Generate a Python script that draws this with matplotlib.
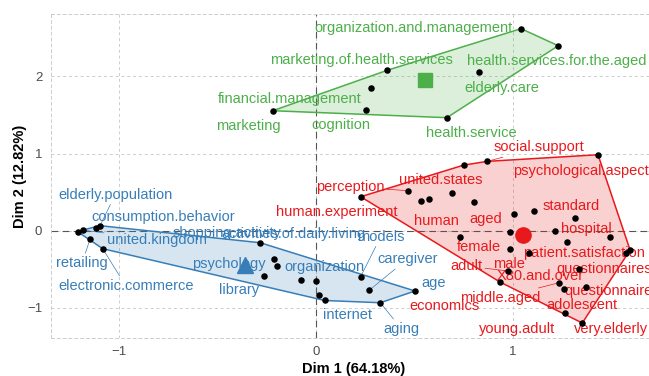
import numpy as np
import matplotlib
matplotlib.use("Agg")
import matplotlib.pyplot as plt

plt.rcParams['font.family'] = ['Liberation Sans', 'DejaVu Sans']

# ---------------- data (Dim 1, Dim 2) ----------------
green_x = [-0.220, 0.254, 0.278, 0.362, 0.665, 0.828, 1.042, 1.231]
green_y = [1.554, 1.560, 1.848, 2.078, 1.464, 2.060, 2.617, 2.396]
green_lab = ["marketing", "cognition", "financial.management",
             "marketing.of.health.services", "health.service", "elderly.care",
             "organization.and.management", "health.services.for.the.aged"]

blue_x = [-1.211, -1.185, -1.118, -1.097, -1.148, -1.084, -0.283, -0.215,
          -0.199, -0.265, -0.075, 0.000, 0.017, 0.044, 0.227, 0.270, 0.503, 0.327]
blue_y = [-0.013, 0.009, 0.039, 0.065, -0.108, -0.233, -0.156, -0.363,
          -0.458, -0.587, -0.643, -0.652, -0.827, -0.904, -0.596, -0.772, -0.781, -0.933]
blue_lab = [None, "united.kingdom", "consumption.behavior", "elderly.population",
            "retailing", "electronic.commerce", "shopping.activity",
            "activities.of.daily.living", "psychology", "library", None,
            "organization", "internet", None, "models", "caregiver", "age", "aging"]

red_x = [0.227, 0.469, 0.534, 0.573, 0.693, 0.751, 0.870, 1.433, 0.804, 1.007,
         1.107, 1.314, 0.986, 1.216, 1.494, 1.274, 0.732, 0.987, 1.084, 1.596,
         1.574, 1.335, 0.977, 0.935, 1.235, 1.260, 1.370, 1.265, 1.353]
red_y = [0.440, 0.518, 0.389, 0.411, 0.492, 0.850, 0.898, 0.984, 0.371, 0.220,
         0.251, 0.161, -0.018, -0.003, -0.087, -0.146, -0.087, -0.236, -0.284, -0.251,
         -0.293, -0.492, -0.522, -0.665, -0.674, -0.751, -0.733, -1.066, -1.196]
red_lab = ["human.experiment", "perception", "human", None, "united.states", None,
           "social.support", "psychological.aspect", "aged", None, "standard",
           "hospital", None, None, None, "patient.satisfaction", "female", "male",
           None, None, "questionnaire", "questionnaires", "adult", "economics",
           "middle.aged", "X80.and.over", "adolescent", "young.adult", "very.elderly"]

# ---------------- label layout (offsets in pixels, segment flag) ----------------
label_offsets = {
    "marketing": (-24, -15, False), "financial.management": (-81, -11, False),
    "cognition": (-25, -15, False), "marketing.of.health.services": (-26, 10, False),
    "health.service": (24, -15, False), "elderly.care": (23, -16, False),
    "organization.and.management": (-108, 1, False),
    "health.services.for.the.aged": (-2, -15, False),
    "elderly.population": (15, 31, True), "consumption.behavior": (67, 11, False),
    "united.kingdom": (74, -10, True), "retailing": (-8, -24, True),
    "electronic.commerce": (23, -37, True), "shopping.activity": (-33, 10, False),
    "activities.of.daily.living": (20, 25, False), "psychology": (-48, 2, False),
    "library": (-25, -14, False), "organization": (8, 14, False),
    "models": (20, 40, True), "caregiver": (38, 31, True), "age": (19, 8, False),
    "internet": (28, -20, False), "aging": (21, -26, True),
    "social.support": (52, 14, True), "perception": (-58, 4, True),
    "human.experiment": (-24, -15, False), "united.states": (-12, 13, False),
    "human": (15, -20, False), "aged": (12, -17, False), "standard": (37, 5, False),
    "hospital": (12, -11, False), "female": (19, -10, False), "male": (-1, -15, False),
    "patient.satisfaction": (17, -11, False), "adult": (-42, 5, True),
    "economics": (-56, -24, False), "middle.aged": (-59, -15, True),
    "X80.and.over": (-24, 13, False), "adolescent": (-4, -18, False),
    "questionnaire": (-17, -38, False), "questionnaires": (25, 0, False),
    "young.adult": (-48, -16, False), "very.elderly": (29, -6, False),
    "psychological.aspect": (-17, -16, False),
}

groups = [
    (blue_x, blue_y, blue_lab, "#377EB8", "^", 12),
    (green_x, green_y, green_lab, "#4DAF4A", "s", 10),
    (red_x, red_y, red_lab, "#E8191C", "o", 11),
]


def convex_hull(pts):
    pts = sorted(set(pts))
    def cross(o, a, b):
        return (a[0]-o[0])*(b[1]-o[1]) - (a[1]-o[1])*(b[0]-o[0])
    lower, upper = [], []
    for p in pts:
        while len(lower) >= 2 and cross(lower[-2], lower[-1], p) <= 0:
            lower.pop()
        lower.append(p)
    for p in reversed(pts):
        while len(upper) >= 2 and cross(upper[-2], upper[-1], p) <= 0:
            upper.pop()
        upper.append(p)
    return lower[:-1] + upper[:-1]


W, H = 649, 376
fig = plt.figure(figsize=(W/100, H/100), dpi=100)
L, R, T, B = 50.7, 657.0, 14.3, 338.0
ax = fig.add_axes([L/W, 1-B/H, (R-L)/W, (B-T)/H])

x0px, xs = 316.0, 196.8
y0px, ys = 230.7, 77.2
ax.set_xlim((L-x0px)/xs, (R-x0px)/xs)
ax.set_ylim((y0px-B)/ys, (y0px-T)/ys)

ax.set_xticks([-1, 0, 1])
ax.set_yticks([-1, 0, 1, 2])
ax.grid(True, color="#CCCCCC", linestyle=(0, (3, 3)), linewidth=0.7)
ax.set_axisbelow(True)
for s in ax.spines.values():
    s.set_color("#CCCCCC")
    s.set_linestyle((0, (3, 3)))
    s.set_linewidth(0.7)
ax.tick_params(length=0, colors="#4D4D4D", labelsize=9.5, pad=6)
ax.axhline(0, color="#555555", linestyle=(0, (6, 4)), linewidth=0.8, zorder=1)
ax.axvline(0, color="#555555", linestyle=(0, (6, 4)), linewidth=0.8, zorder=1)

for gx, gy, labs, col, mk, ms in groups:
    hull = convex_hull(list(zip(gx, gy)))
    hx = [p[0] for p in hull] + [hull[0][0]]
    hy = [p[1] for p in hull] + [hull[0][1]]
    ax.fill(hx, hy, color=col, alpha=0.2, lw=0, zorder=2)
    ax.plot(hx, hy, color=col, lw=1.1, zorder=3)
    ax.scatter(gx, gy, s=22, color="black", zorder=5, linewidths=0)
    ax.plot([np.mean(gx)], [np.mean(gy)], marker=mk, markersize=ms, color=col,
            linestyle="none", zorder=6)
    for x, y, lab in zip(gx, gy, labs):
        if lab is None:
            continue
        dx, dy, seg = label_offsets[lab]
        kw = {}
        if seg:
            kw["arrowprops"] = dict(arrowstyle="-", color=col, lw=0.5,
                                    shrinkA=0, shrinkB=2)
        ax.annotate(lab, xy=(x, y), xytext=(dx, dy), textcoords="offset pixels",
                    ha="center", va="center", color=col, fontsize=10.5,
                    zorder=4, **kw)

ax.set_xlabel("Dim 1 (64.18%)", fontsize=10.5, fontweight="bold", va="center")
ax.set_ylabel("Dim 2 (12.82%)", fontsize=10.5, fontweight="bold", va="center")
ax.xaxis.set_label_coords((354 - L)/(R - L), (B - 369)/(B - T))
ax.yaxis.set_label_coords((20 - L)/(R - L), (B - 176)/(B - T))

fig.savefig("out.png", dpi=100)
